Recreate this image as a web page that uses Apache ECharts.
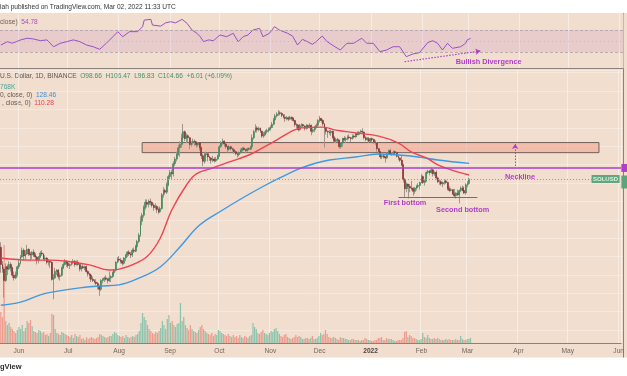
<!DOCTYPE html>
<html>
<head>
<meta charset="utf-8">
<script src="https://cdn.jsdelivr.net/npm/echarts@6/dist/echarts.min.js"></script>
<style>
  html, body { margin: 0; padding: 0; background: #fff; }
  #main { width: 627px; height: 376px; }
</style>
</head>
<body>
<div id="main"></div>
<script>
// SOL/USD 1D, Binance — 2021-05-21 .. 2022-03-02, plus empty space up to early June 2022
var firstDay = '2021-05-21';
var dayCount = 378;
var firstOpen = 42.6;
var lastOpen = 98.66;

var closes = [
  34, 32, 27.5, 33, 32, 34, 32.5, 29.5, 28.5, 30, 33,
  34.5, 37.5, 41, 38, 39, 41.5, 39, 38.5, 40, 38.5, 37.5, 36, 37.5, 39.5, 39, 36.5, 37, 35, 35.5, 35,
  28, 28.5, 31, 31.5, 29, 29.5, 32.5, 34, 35.5, 34.5,
  33.5, 34, 35, 35.5, 34, 35, 34, 32, 33, 32.5, 33, 31, 30, 29.5, 28, 27.5, 27, 26.5, 25.5, 24.5,
  27.5, 28, 28.5, 28, 27.5, 28.5, 29, 30.5, 31.5, 35, 36.5,
  36, 35.5, 34.5, 37, 38.5, 40, 39, 38.5, 41, 40.5, 43, 46, 50, 60, 65, 72, 77, 75, 78, 77,
  74, 72, 73, 70, 68, 71, 85, 90, 88, 97, 108,
  114, 112, 128, 136, 145, 158, 165, 180, 195, 178, 185, 180, 165, 168, 172, 170, 164, 168, 158, 142,
  132, 144, 146, 140, 138, 134, 136, 133, 136, 142,
  160, 168, 172, 166, 160, 155, 160, 156, 154, 150, 146, 144, 148, 153, 157, 154, 152, 156, 155, 160,
  180, 195, 205, 200, 204, 196, 184, 188, 195, 198, 202,
  206, 215, 228, 240, 246, 250, 248, 242, 236, 232, 234, 230, 236, 232, 226, 214, 212, 200, 212, 214,
  210, 204, 212, 208, 212, 196, 200, 208, 212, 226,
  232, 226, 216, 204, 196, 194, 192, 196, 180, 172, 176, 174, 160, 168, 178, 176, 178, 182, 180, 178,
  184, 182, 190, 188, 194, 196, 194, 180, 176, 178, 172,
  178, 176, 170, 168, 156, 150, 140, 142, 140, 138, 146, 152, 146, 146, 150, 148, 141, 138, 134, 126,
  104, 92, 98, 95, 93, 92, 89, 93, 95, 96, 100,
  108, 100, 102, 114, 116, 114, 118, 112, 114, 106, 101, 101, 98, 100, 102, 100, 92, 90, 91, 86,
  84, 87, 85, 90, 93, 90, 87, 97,
  98.65, 104.66
];
var highs = [
  45.5, 35.5, 33, 34.5, 34, 35.5, 35, 33, 31, 31, 33.5,
  36, 38.5, 42.5, 42, 41, 44, 42, 40, 40.5, 41.5, 39.5, 38, 38, 40.5, 41, 39.5, 38.5, 37.5, 36.5, 36,
  35.5, 30, 32.5, 32, 32, 30.5, 33, 35, 36.5, 36,
  35, 34.5, 35.5, 36.5, 36, 35.8, 36, 34, 33.5, 34, 33.5, 33.5, 31.5, 30.5, 30, 29, 28, 28, 27, 26,
  28, 28.5, 29, 29.5, 28.5, 31, 29.5, 31, 32, 35.5, 37.5,
  38, 37, 36, 37.5, 39, 40.5, 41, 40, 42, 42.5, 44, 47, 51.5, 64, 67, 74, 80, 80, 80, 81,
  78, 76, 76, 74, 72, 73, 87, 94, 92, 100, 111,
  118, 118, 132, 140, 150, 164, 172, 190, 216, 198, 190, 188, 182, 172, 178, 176, 172, 170, 168, 160,
  146, 148, 150, 148, 142, 140, 142, 139, 140, 144,
  164, 172, 178, 174, 168, 162, 164, 162, 158, 158, 152, 148, 150, 156, 159, 160, 156, 158, 159, 162,
  188, 200, 215, 210, 208, 206, 198, 194, 200, 203, 206,
  212, 222, 234, 246, 252, 260, 256, 252, 246, 246, 240, 238, 240, 238, 236, 228, 218, 214, 216, 218,
  216, 212, 216, 214, 218, 214, 204, 210, 218, 230,
  240, 234, 230, 218, 208, 198, 200, 200, 198, 184, 180, 180, 176, 170, 180, 184, 182, 186, 188, 182,
  188, 188, 192, 196, 196, 200, 204, 196, 184, 182, 182,
  180, 180, 178, 174, 170, 157, 151, 145, 145, 142, 148, 154, 156, 149, 152, 152, 150, 142, 139, 142,
  128, 106, 100, 98, 98, 102, 94, 94, 97, 99, 101,
  112, 110, 104, 116, 118, 118, 121, 120, 116, 117, 108, 104, 103, 101, 103, 104, 101, 95, 93, 91,
  92, 88, 91, 91, 95, 96, 95, 99,
  102, 106.47
];
var lows = [
  30.5, 30.5, 22, 27, 29.5, 31.5, 31, 28.5, 27.5, 28, 29,
  32, 34, 37, 36, 36.5, 38.5, 38, 35.5, 36.5, 37.5, 36, 34, 34.5, 37, 38, 36, 35.5, 34, 33.5, 32.5,
  27.5, 21.5, 28, 29.5, 28, 27.5, 29, 32, 33.5, 33,
  32.5, 32, 33.5, 34, 33, 33.5, 33.5, 31, 31, 32, 31.5, 30.5, 29, 28, 27, 27, 26.5, 26, 24.5, 22.5,
  24, 26.5, 27, 27.5, 26.5, 27, 27, 28.5, 29.5, 31, 34.5,
  35, 34.5, 33.5, 34, 35.5, 37.5, 38, 37, 37.5, 39.5, 40, 42, 45, 49, 57, 63, 70, 72, 72, 74,
  72, 69, 70, 67, 66, 67, 70, 82, 85, 86, 95,
  104, 104, 108, 124, 132, 142, 140, 158, 176, 172, 168, 170, 155, 160, 164, 162, 158, 160, 152, 136,
  124, 128, 140, 132, 133, 128, 131, 130, 131, 134,
  140, 158, 164, 160, 156, 148, 152, 152, 150, 146, 143, 139, 141, 146, 150, 152, 147, 150, 152, 153,
  158, 176, 193, 193, 196, 192, 180, 180, 186, 190, 193,
  198, 204, 212, 226, 235, 240, 242, 236, 232, 222, 226, 224, 228, 226, 222, 208, 204, 196, 198, 206,
  206, 198, 200, 202, 204, 186, 192, 194, 204, 208,
  220, 220, 210, 158, 188, 180, 188, 184, 178, 168, 168, 170, 156, 156, 160, 172, 168, 174, 176, 170,
  176, 178, 180, 186, 186, 190, 190, 176, 172, 172, 168,
  170, 172, 166, 164, 150, 145, 136, 136, 137, 130, 136, 144, 144, 142, 144, 145, 139, 134, 131, 124,
  100, 82, 88, 81, 88, 90, 84, 86, 90, 93, 91,
  99, 98, 96, 101, 112, 110, 112, 108, 109, 104, 99, 97, 96, 94, 97, 98, 90, 88, 89, 85,
  82, 81, 84, 76, 88, 89, 86, 85,
  94, 96.83
];
// volume, thousands
var volumes = [
  4650, 3900, 14700, 3300, 2700, 3000, 2400, 2100, 1800, 1500, 1950,
  2400, 2100, 2700, 1800, 2250, 3300, 3000, 3450, 2550,
  1800, 1650, 1500, 1950, 1800, 1500, 1650, 1200, 1350, 1050, 1500,
  4350, 4200, 2100, 1500, 1350, 1200, 1650, 1500, 1350, 1200,
  1050, 900, 1200, 750, 1350, 1050, 900, 1200,
  600, 750, 450, 900, 600, 750, 900, 750, 600, 750, 900, 1350,
  1200, 1050, 900, 750, 900, 1050, 1050, 1350, 1650, 1500, 1200, 1050,
  900, 1050, 750, 1200, 900, 750, 900, 1050, 900, 1200, 1350,
  1800, 3000, 4500, 3900, 3450, 2700,
  2100, 1800, 1500, 1350, 1650, 1500, 1800, 2250, 3300, 2700, 2100, 3600, 4200,
  3000, 3300, 2700, 2400, 2850, 3000, 6000, 3300, 3900, 2700,
  2250, 1950, 2700, 2100, 1800, 1650, 1500, 1950, 2400, 2700, 2100, 1800, 1500,
  1350, 1200, 1500, 1050, 1350, 1200, 1950, 1800,
  1500, 1350, 1200, 1050, 1350, 1050, 900, 1200,
  900, 1050, 750, 1200, 900, 750, 1050, 900, 750, 1050, 1200, 3000,
  2400, 2100, 1500, 1350, 1650, 1950, 1500, 1350,
  1200, 1500, 1800, 1650, 2100, 2250, 1800,
  1350, 1050, 900, 1200, 1350, 900, 750, 600, 750, 900, 1200, 900, 1050, 900, 600, 600, 750, 750,
  600, 750, 1050, 600, 600, 750, 1050,
  1500, 1200, 1350, 1950, 1350,
  900, 750, 750, 900, 750, 600, 450, 900, 750, 750, 600, 600, 450, 450, 600, 600, 450, 450, 450, 300,
  450, 450, 750, 600, 450, 450, 300, 300, 450, 450, 750, 750, 900, 450, 450, 750, 600, 600, 600, 450,
  300, 300, 450, 450, 450, 750,
  1650, 1800, 900, 1200, 1050, 750, 750, 600, 450, 450, 600,
  1500, 900,
  750, 1200, 750, 600, 600, 750, 600, 750, 600, 450, 450, 450, 600, 450, 600, 450, 450, 450, 600, 450,
  450, 1050, 600, 450, 450, 600,
  600, 768
];

// moving averages
var ma50Dates = ['2021-05-21', '2021-06-08', '2021-06-20', '2021-06-30', '2021-07-14', '2021-07-26',
  '2021-08-01', '2021-08-09', '2021-08-18', '2021-08-26', '2021-09-02', '2021-09-11', '2021-09-17',
  '2021-09-27', '2021-10-07', '2021-10-19', '2021-10-27', '2021-11-05', '2021-11-13', '2021-11-20',
  '2021-12-03', '2021-12-11', '2021-12-23', '2022-01-06', '2022-01-18', '2022-01-26', '2022-02-04',
  '2022-02-11', '2022-02-19', '2022-03-02'];
var ma50Values = [37, 36, 36, 35.5, 33.8, 31.6, 32, 33.8, 37.7, 48, 69.6, 96.7, 112, 121, 131, 143.5,
  157, 175, 194, 205, 207, 199, 192, 184, 168, 149, 138, 126, 118, 110.28];

var ma200Dates = ['2021-05-21', '2021-06-02', '2021-06-14', '2021-06-22', '2021-07-08', '2021-07-20',
  '2021-08-01', '2021-08-13', '2021-08-26', '2021-09-07', '2021-09-19', '2021-10-03', '2021-10-13',
  '2021-10-27', '2021-11-08', '2021-11-20', '2021-11-29', '2021-12-07', '2021-12-23', '2022-01-06',
  '2022-01-18', '2022-01-30', '2022-02-11', '2022-03-02'];
var ma200Values = [19.9, 20.7, 22.8, 23.7, 25, 25.6, 26, 28.4, 32.9, 42.8, 57.1, 69.6, 79.4, 94.2,
  107.5, 121, 129.2, 134.4, 139.8, 145.4, 143.5, 139.8, 134.4, 128.46];

var rsiDates = ['2021-05-21', '2021-05-25', '2021-05-28', '2021-06-02', '2021-06-06', '2021-06-10',
  '2021-06-14', '2021-06-18', '2021-06-22', '2021-06-26', '2021-06-30', '2021-07-04', '2021-07-08',
  '2021-07-12', '2021-07-16', '2021-07-20', '2021-07-24', '2021-07-28', '2021-07-31', '2021-08-03',
  '2021-08-07', '2021-08-12', '2021-08-15', '2021-08-16', '2021-08-20', '2021-08-21', '2021-08-26',
  '2021-08-29', '2021-09-01', '2021-09-04', '2021-09-08', '2021-09-11', '2021-09-14', '2021-09-17',
  '2021-09-19', '2021-09-21', '2021-09-24', '2021-09-27', '2021-10-01', '2021-10-05', '2021-10-09',
  '2021-10-12', '2021-10-15', '2021-10-18', '2021-10-21', '2021-10-25', '2021-10-27', '2021-10-31',
  '2021-11-03', '2021-11-06', '2021-11-11', '2021-11-14', '2021-11-17', '2021-11-20', '2021-11-23',
  '2021-11-26', '2021-11-28', '2021-12-02', '2021-12-05', '2021-12-09', '2021-12-13', '2021-12-17',
  '2021-12-21', '2021-12-26', '2021-12-29', '2022-01-02', '2022-01-06', '2022-01-10', '2022-01-14',
  '2022-01-18', '2022-01-22', '2022-01-26', '2022-01-30', '2022-02-04', '2022-02-07', '2022-02-10',
  '2022-02-13', '2022-02-16', '2022-02-19', '2022-02-24', '2022-02-27', '2022-02-28', '2022-03-02'];
var rsiValues = [42.7, 48.8, 46, 52, 55, 53.6, 50.6, 52, 39.6, 45.8, 48.8, 52, 48.8, 42.7, 39.6, 34.9,
  45.8, 57.8, 66.9, 57.8, 67, 67, 76, 88, 89.4, 79, 77, 83, 85, 83, 89.4, 82, 70, 64, 57.8, 48.8, 52,
  50.6, 61, 57.8, 64, 48.8, 57.8, 61, 70, 73, 57.8, 64, 76, 70, 64, 59, 42.7, 53, 48.8, 44, 48, 59,
  48.8, 41, 33.6, 45.8, 45.8, 55, 45.8, 45.8, 30.6, 33.6, 39.6, 39.6, 21.5, 26.4, 28.8, 47, 50.6, 45.8,
  33.6, 45.8, 36.7, 39.6, 45.8, 52, 54.78];

var monthNames = ['Jan', 'Feb', 'Mar', 'Apr', 'May', 'Jun', 'Jul', 'Aug', 'Sep', 'Oct', 'Nov', 'Dec'];

var days = [];
var d0 = new Date(firstDay + 'T00:00:00Z').getTime();
for (var i = 0; i < dayCount; i++) {
  days.push(new Date(d0 + i * 86400000).toISOString().slice(0, 10));
}

var wicks = [], bodies = [], vols = [];
for (var i = 0; i < closes.length; i++) {
  var o = i === 0 ? firstOpen : (i === closes.length - 1 ? lastOpen : closes[i - 1]);
  var c = closes[i];
  wicks.push([o, c, lows[i], highs[i]]);
  bodies.push([o, c, Math.min(o, c), Math.max(o, c)]);
  vols.push({ value: volumes[i], itemStyle: { color: c >= o ? '#8cc3ab' : '#ee9a8c' } });
}
function pairs(xs, ys) { return xs.map(function (d, k) { return [d, ys[k]]; }); }

var last = closes.length - 1;
var prevClose = closes[last - 1];
var chg = closes[last] - prevClose;

var peach = '#f2dece';
var frameCol = '#8b807a';
var gridLineCol = 'rgba(255,255,255,0.45)';
var annot = '#ad3fc9';
var font = '"Liberation Sans", Arial, sans-serif';
var upCol = '#3a8a59', downCol = '#8a2e2b', wickCol = '#9d958f';

function isMonthStart(idx, val) { return String(val).slice(8) === '01'; }

function txt(label) {
  return { show: true, position: 'inside', formatter: label, color: annot, fontSize: 7.3, fontWeight: 'bold', fontFamily: font };
}
function tag(coord, label) {
  return { coord: coord, symbol: 'rect', symbolSize: 1, itemStyle: { color: 'rgba(0,0,0,0)' }, label: txt(label) };
}

var chart = echarts.init(document.getElementById('main'));
var option = {
  animation: false,
  backgroundColor: '#ffffff',
  textStyle: { fontFamily: font },
  graphic: [
    { type: 'rect', z: -10, silent: true, shape: { x: 0, y: 13, width: 627, height: 344.5 }, style: { fill: peach } },
    { type: 'line', silent: true, shape: { x1: 623.5, y1: 13, x2: 623.5, y2: 357.5 }, style: { stroke: frameCol, lineWidth: 1 } },
    { type: 'text', x: 0, y: 7, style: { text: 'lah published on TradingView.com, Mar 02, 2022 11:33 UTC', fill: '#333', fontSize: 6.6, fontFamily: font, verticalAlign: 'middle' } },
    { type: 'text', x: 0, y: 22, style: { text: '{g|close)}  {p|' + rsiValues[rsiValues.length - 1].toFixed(2) + '}', fontSize: 6.6, fontFamily: font, verticalAlign: 'middle',
        rich: { g: { fill: '#6b625c', fontSize: 6.6 }, p: { fill: '#a64fc4', fontSize: 6.6 } } } },
    { type: 'text', x: 0, y: 76.5, style: {
        text: '{g|U.S. Dollar, 1D, BINANCE}  {v|O' + lastOpen.toFixed(2) + '}  {v|H' + highs[last].toFixed(2) + '}  {v|L' + lows[last].toFixed(2) +
              '}  {v|C' + closes[last].toFixed(2) + '}  {v|+' + chg.toFixed(2) + ' (+' + (chg / prevClose * 100).toFixed(2) + '%)}',
        fontSize: 6.6, fontFamily: font, verticalAlign: 'middle',
        rich: { g: { fill: '#5e5650', fontSize: 6.6 }, v: { fill: '#3f9468', fontSize: 6.6 } } } },
    { type: 'text', x: 0, y: 87, style: { text: (volumes[last]) + 'K', fill: '#4aa696', fontSize: 6.6, fontFamily: font, verticalAlign: 'middle' } },
    { type: 'text', x: 0, y: 95, style: { text: '{g|0, close, 0)}  {b|' + ma200Values[ma200Values.length - 1].toFixed(2) + '}', fontSize: 6.6, fontFamily: font, verticalAlign: 'middle',
        rich: { g: { fill: '#5e5650', fontSize: 6.6 }, b: { fill: '#3a8fde', fontSize: 6.6 } } } },
    { type: 'text', x: 2, y: 103.5, style: { text: '{g|, close, 0)}  {r|' + ma50Values[ma50Values.length - 1].toFixed(2) + '}', fontSize: 6.6, fontFamily: font, verticalAlign: 'middle',
        rich: { g: { fill: '#5e5650', fontSize: 6.6 }, r: { fill: '#e8424e', fontSize: 6.6 } } } },
    { type: 'text', x: 0, y: 367, style: { text: 'gView', fill: '#2b2b2b', fontSize: 7.5, fontWeight: 'bold', fontFamily: font, verticalAlign: 'middle' } }
  ],
  grid: [
    { left: 0, right: 4, top: 13.5, height: 55 },
    { left: 0, right: 4, top: 70, height: 273 },
    { left: 0, right: 4, top: 245, height: 98 },
    { left: 0, right: 4, top: 70, height: 260.1 }
  ],
  xAxis: [
    { type: 'category', gridIndex: 0, data: days, axisLine: { show: true, lineStyle: { color: frameCol } }, axisTick: { show: false }, axisLabel: { show: false },
      splitLine: { show: true, interval: isMonthStart, lineStyle: { color: gridLineCol } } },
    { type: 'category', gridIndex: 1, data: days, axisLine: { show: true, lineStyle: { color: frameCol } }, axisTick: { show: false },
      axisLabel: { interval: isMonthStart, color: '#6e6660', fontSize: 6.6, margin: 4.5, fontFamily: font,
        formatter: function (v) { var m = +v.slice(5, 7); return m === 1 ? '{y|' + v.slice(0, 4) + '}' : monthNames[m - 1]; },
        rich: { y: { fontWeight: 'bold', color: '#4a4440', fontSize: 6.6 } } },
      splitLine: { show: true, interval: isMonthStart, lineStyle: { color: gridLineCol } } },
    { type: 'category', gridIndex: 2, data: days, show: false },
    { type: 'value', gridIndex: 3, show: false, min: 0, max: 1 }
  ],
  yAxis: [
    { type: 'value', gridIndex: 0, min: 0, max: 100, show: false },
    { type: 'log', gridIndex: 1, min: 12.10, max: 439.0, logBase: 10, show: false },
    { type: 'value', gridIndex: 2, min: 0, max: 14700, show: false },
    { type: 'value', gridIndex: 3, min: 0, max: 260.1, interval: 18.39, axisLine: { show: false }, axisTick: { show: false }, axisLabel: { show: false },
      splitLine: { show: true, lineStyle: { color: 'rgba(255,255,255,0.3)' } } }
  ],
  series: [
    { name: 'Volume', type: 'bar', xAxisIndex: 2, yAxisIndex: 2, data: vols, barWidth: '75%', z: 1, silent: true },
    { name: 'Wicks', type: 'candlestick', xAxisIndex: 1, yAxisIndex: 1, data: wicks, barWidth: 0.4, z: 2, silent: true,
      itemStyle: { color: wickCol, color0: wickCol, borderColor: wickCol, borderColor0: wickCol, borderWidth: 1 },
      markArea: { silent: true, itemStyle: { color: 'rgba(243,160,140,0.55)', borderColor: '#6f605a', borderWidth: 1 },
        data: [[{ coord: ['2021-08-15', 148] }, { coord: ['2022-05-20', 169] }]] } },
    { name: 'SOLUSD', type: 'candlestick', xAxisIndex: 1, yAxisIndex: 1, data: bodies, barWidth: 1.4, z: 3, silent: true,
      itemStyle: { color: upCol, color0: downCol, borderColor: upCol, borderColor0: downCol, borderWidth: 0.6 },
      markLine: { silent: true, symbol: ['none', 'none'], label: { show: false },
        data: [
          { yAxis: 121, lineStyle: { color: annot, width: 1.5, type: 'solid' } },
          { yAxis: closes[last], lineStyle: { color: '#a0968f', width: 1, type: [1, 2] } },
          [{ coord: ['2022-01-18', 82.6], lineStyle: { color: annot, width: 1, type: 'solid' } }, { coord: ['2022-03-07', 82.6] }],
          [{ coord: ['2022-03-30', 124.2], symbol: 'none', lineStyle: { color: annot, width: 1, type: [1.5, 1.5] } },
           { coord: ['2022-03-30', 165.9], symbol: 'arrow', symbolSize: [5, 5] }]
        ] },
      markPoint: { silent: true,
        data: [
          tag(['2022-04-02', 107.4], 'Neckline'),
          tag(['2022-01-22', 76.3], 'First bottom'),
          tag(['2022-02-26', 69.6], 'Second bottom'),
          { coord: ['2022-05-24', closes[last]], symbol: 'rect', symbolSize: [28, 8], itemStyle: { color: '#62a67f' },
            label: { show: true, position: 'inside', formatter: 'SOLUSD', color: '#dcefe2', fontSize: 6, fontWeight: 'bold', fontFamily: font } },
          { coord: [days[dayCount - 1], 121], symbol: 'rect', symbolSize: [12, 8], symbolOffset: [7, 0], itemStyle: { color: annot }, label: { show: false } },
          { coord: [days[dayCount - 1], closes[last]], symbol: 'rect', symbolSize: [12, 13], symbolOffset: [7, 3], itemStyle: { color: '#5ca57c' }, label: { show: false } }
        ] } },
    { name: 'MA200', type: 'line', xAxisIndex: 1, yAxisIndex: 1, data: pairs(ma200Dates, ma200Values), smooth: 0.4, showSymbol: false, z: 4, silent: true,
      lineStyle: { color: '#3d98e6', width: 1.4 } },
    { name: 'MA50', type: 'line', xAxisIndex: 1, yAxisIndex: 1, data: pairs(ma50Dates, ma50Values), smooth: 0.4, showSymbol: false, z: 4, silent: true,
      lineStyle: { color: '#ee4350', width: 1.4 } },
    { name: 'RSI', type: 'line', xAxisIndex: 0, yAxisIndex: 0, data: pairs(rsiDates, rsiValues), showSymbol: false, z: 4, silent: true,
      lineStyle: { color: '#9a4fc4', width: 1 },
      markArea: { silent: true, itemStyle: { color: 'rgba(190,120,200,0.18)' }, data: [[{ yAxis: 30 }, { yAxis: 70 }]] },
      markLine: { silent: true, symbol: ['none', 'none'], label: { show: false },
        data: [
          { yAxis: 70, lineStyle: { color: '#ad9ea8', width: 0.8, type: [3, 2] } },
          { yAxis: 30, lineStyle: { color: '#ad9ea8', width: 0.8, type: [3, 2] } },
          { yAxis: 50, lineStyle: { color: 'rgba(170,150,165,0.5)', width: 0.8, type: [1, 3] } },
          [{ coord: ['2022-01-21', 12.4], symbol: 'none', lineStyle: { color: annot, width: 1.2, type: [1.5, 1.5] } },
           { coord: ['2022-03-08', 31.8], symbol: 'arrow', symbolSize: [5, 5] }]
        ] },
      markPoint: { silent: true, data: [tag(['2022-03-13', 11.8], 'Bullish Divergence')] } }
  ]
};
chart.setOption(option);
</script>
</body>
</html>
